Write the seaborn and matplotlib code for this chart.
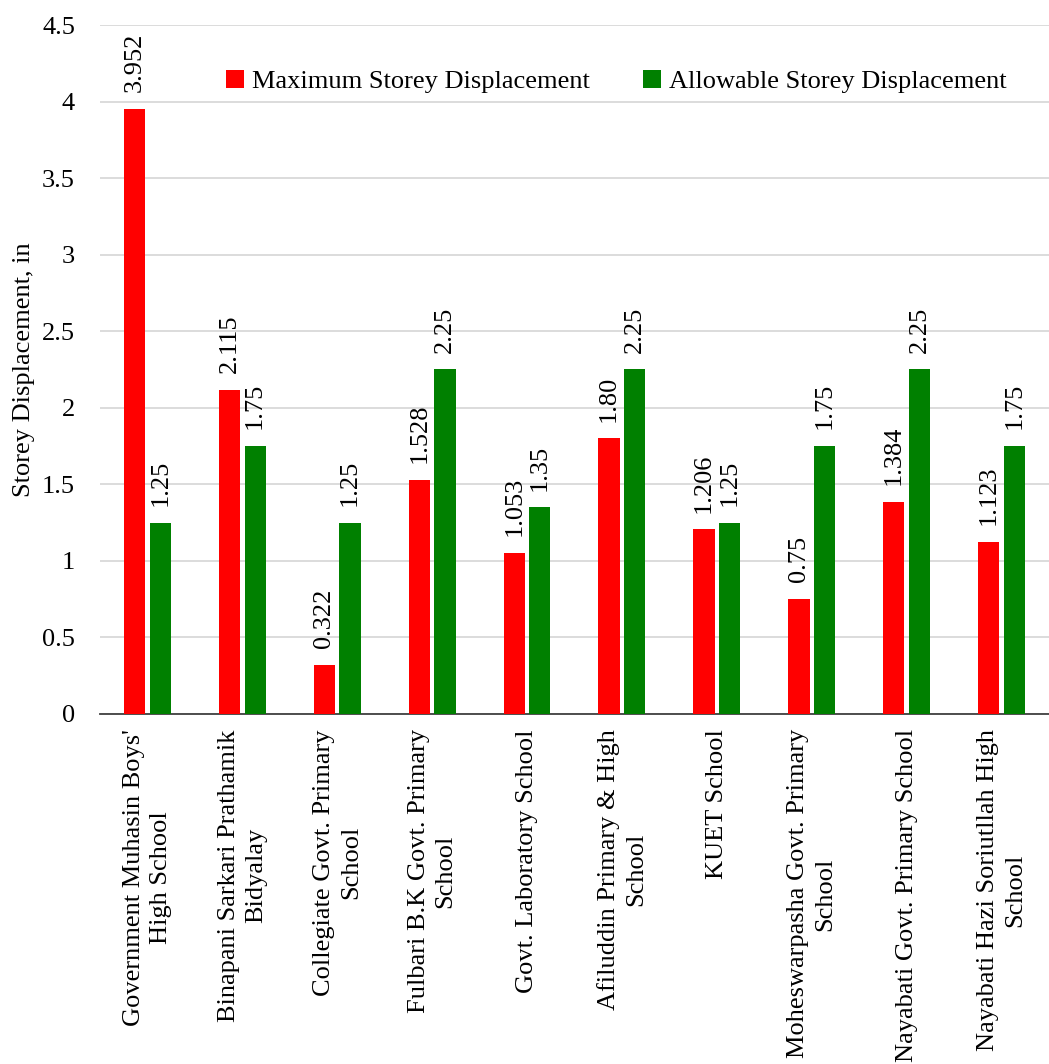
import matplotlib
matplotlib.use('Agg')
import matplotlib.pyplot as plt
import seaborn as sns
import pandas as pd

schools = [
    "Government Muhasin Boys'\nHigh School",
    "Binapani Sarkari Prathamik\nBidyalay",
    "Collegiate Govt. Primary\nSchool",
    "Fulbari B.K Govt. Primary\nSchool",
    "Govt. Laboratory School",
    "Afiluddin Primary & High\nSchool",
    "KUET School",
    "Moheswarpasha Govt. Primary\nSchool",
    "Nayabati Govt. Primary School",
    "Nayabati Hazi Soriutllah High\nSchool",
]
max_disp = [3.952, 2.115, 0.322, 1.528, 1.053, 1.80, 1.206, 0.75, 1.384, 1.123]
allow_disp = [1.25, 1.75, 1.25, 2.25, 1.35, 2.25, 1.25, 1.75, 2.25, 1.75]
max_labels = ["3.952", "2.115", "0.322", "1.528", "1.053", "1.80", "1.206", "0.75", "1.384", "1.123"]
allow_labels = ["1.25", "1.75", "1.25", "2.25", "1.35", "2.25", "1.25", "1.75", "2.25", "1.75"]
series = ["Maximum Storey Displacement", "Allowable Storey Displacement"]

df = pd.DataFrame({
    'school': schools * 2,
    'value': max_disp + allow_disp,
    'series': [series[0]] * len(schools) + [series[1]] * len(schools),
})

sns.set_style('white')
plt.rcParams['font.family'] = ['Liberation Serif', 'DejaVu Serif']
plt.rcParams['text.color'] = 'black'
fs = 19

fig = plt.figure(figsize=(10.49, 10.64), dpi=100)
ax = fig.add_axes([0.0953, 0.329, 0.9047, 0.6475])

sns.barplot(data=df, x='school', y='value', hue='series',
            palette=['#ff0000', '#008000'], width=0.54, gap=0.17,
            saturation=1, linewidth=0, ax=ax, zorder=3)

for cont, labs in zip(ax.containers, [max_labels, allow_labels]):
    ax.bar_label(cont, labels=labs, rotation=90, padding=12,
                 fontsize=fs, color='black')

ax.set_ylim(0, 4.5)
ax.set_yticks([i * 0.5 for i in range(10)])
ax.set_yticklabels([f"{i * 0.5:g}" for i in range(10)], fontsize=fs)
ax.set_xlim(-0.5, len(schools) - 0.5)
ax.set_xticks(range(len(schools)))
ax.set_xticklabels(schools, rotation=90, fontsize=fs, ha='center',
                   va='top', multialignment='center', linespacing=1.3)
ax.tick_params(axis='both', length=0, colors='black')
ax.tick_params(axis='y', pad=18)
ax.tick_params(axis='x', pad=11)

ax.yaxis.grid(True, color='#d9d9d9', linewidth=1.3, zorder=0)
ax.set_axisbelow(True)
for s in ['top', 'right', 'left']:
    ax.spines[s].set_visible(False)
ax.spines['bottom'].set_color('#404040')
ax.spines['bottom'].set_linewidth(1.3)

ax.set_xlabel('')
ax.set_ylabel('Storey Displacement, in', fontsize=fs, color='black', labelpad=5)

leg = ax.legend(loc='center', bbox_to_anchor=(0.544, 0.918), ncol=2,
                frameon=False, fontsize=fs, handlelength=0.7, handleheight=0.7,
                handletextpad=0.3, columnspacing=2.0)
for t in leg.get_texts():
    t.set_color('black')

fig.savefig('out.png', dpi=100)
